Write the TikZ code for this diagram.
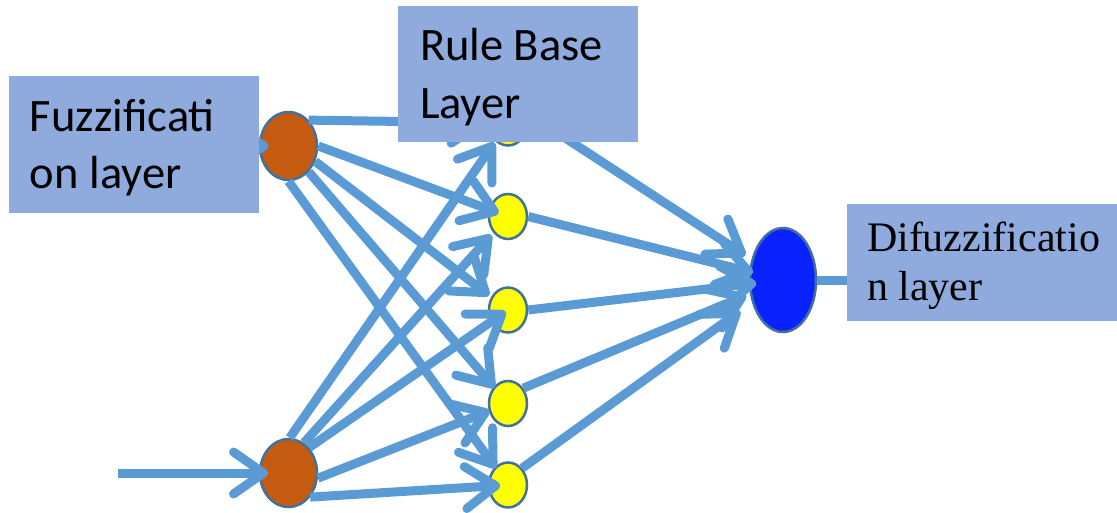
\documentclass[tikz,border=0pt]{standalone}
\usepackage{fontspec}
\setmainfont{Carlito}
\newfontfamily\serifx{Liberation Serif}
\usetikzlibrary{arrows.meta,shapes.geometric}
\definecolor{connc}{HTML}{5B9BD5}
\definecolor{boxfill}{HTML}{8FAADC}
\definecolor{fbrown}{HTML}{C55A11}
\definecolor{nodeedge}{HTML}{41719C}
\definecolor{dblue}{HTML}{0A22FF}
\definecolor{yel}{HTML}{FFFF00}
\begin{document}
\begin{tikzpicture}[x=1pt,y=-1pt,
  conn/.style={draw=connc, line width=9pt, -{Straight Barb[length=30pt,width=42pt,round]}},
  plainline/.style={draw=connc, line width=9pt},
  fuzznode/.style={ellipse, draw=nodeedge, line width=2.5pt, fill=fbrown, minimum width=57pt, minimum height=68pt, inner sep=0pt},
  rulenode/.style={ellipse, draw=nodeedge, line width=2.5pt, fill=yel, minimum width=38pt, minimum height=45pt, inner sep=0pt},
  outnode/.style={ellipse, draw=nodeedge, line width=2.5pt, fill=dblue, minimum width=66pt, minimum height=104pt, inner sep=0pt},
  labelbox/.style={rectangle, fill=boxfill, inner ysep=0pt, align=flush left, anchor=center}
]
\useasboundingbox (0,0) rectangle (1117,512);
% nodes
\node[fuzznode] (B1) at (288.5,146) {};
\node[fuzznode] (B2) at (288.5,473) {};
\node[rulenode] (Y1) at (508,123) {};
\node[rulenode] (Y2) at (508,216.5) {};
\node[rulenode] (Y3) at (508,310) {};
\node[rulenode] (Y4) at (508,403.5) {};
\node[rulenode] (Y5) at (508,485) {};
\node[outnode] (O) at (783,280) {};
\coordinate (in1) at (118,146);
\coordinate (in2) at (118,473);
% inputs
\draw[conn, shorten >=20pt] (in1) -- (B1.center);
\draw[conn, shorten >=20.5pt] (in2) -- (B2.center);
% fuzzification -> rule
\draw[conn, shorten >=22pt] (B1.52) -- (Y1.center);
\draw[conn, shorten >=10pt] (B1.east) -- (Y2.center);
\draw[conn, shorten >=24pt] (B1.-30) -- (Y3.center);
\draw[conn, shorten >=21pt] (B1.-52) -- (Y4.center);
\draw[conn, shorten >=21pt] (B1.south) -- (Y5.center);
\draw[conn, shorten >=24pt] (B2.88) -- (Y1.center);
\draw[conn, shorten >=25pt] (B2.63) -- (Y2.center);
\draw[conn, shorten >=3pt] (B2.51) -- (Y3.center);
\draw[conn, shorten >=20pt] (B2.-10) -- (Y4.center);
\draw[conn, shorten >=8pt] (B2.-48) -- (Y5.center);
% rule -> output
\draw[conn, shorten >=45pt] (Y1.30) -- (O.center);
\draw[conn, shorten >=31pt] (Y2.east) -- (O.center);
\draw[conn, shorten >=27pt] (Y3.east) -- (O.center);
\draw[conn, shorten >=40pt] (Y4.45) -- (O.center);
\draw[conn, shorten >=53pt] (Y5.50) -- (O.center);
% label boxes
\node[labelbox, text width=208pt, inner xsep=21pt, minimum height=137pt, text depth=58.5pt,
  font=\fontsize{46.5}{57}\selectfont] (F) at (134,144.5) {Fuzzificati\\on layer};
\node[labelbox, text width=196pt, inner xsep=22pt, minimum height=136pt, text depth=59.5pt,
  font=\fontsize{46.5}{58}\selectfont] (R) at (518,74) {Rule Base\\Layer};
\node[labelbox, text width=238pt, inner xsep=20pt, minimum height=117pt, text depth=52pt,
  font=\serifx\fontsize{42}{49}\selectfont] (D) at (986,262.5) {Difuzzificatio\\n layer};
\draw[plainline] (O.east) -- (O.east -| D.west);
\end{tikzpicture}
\end{document}
